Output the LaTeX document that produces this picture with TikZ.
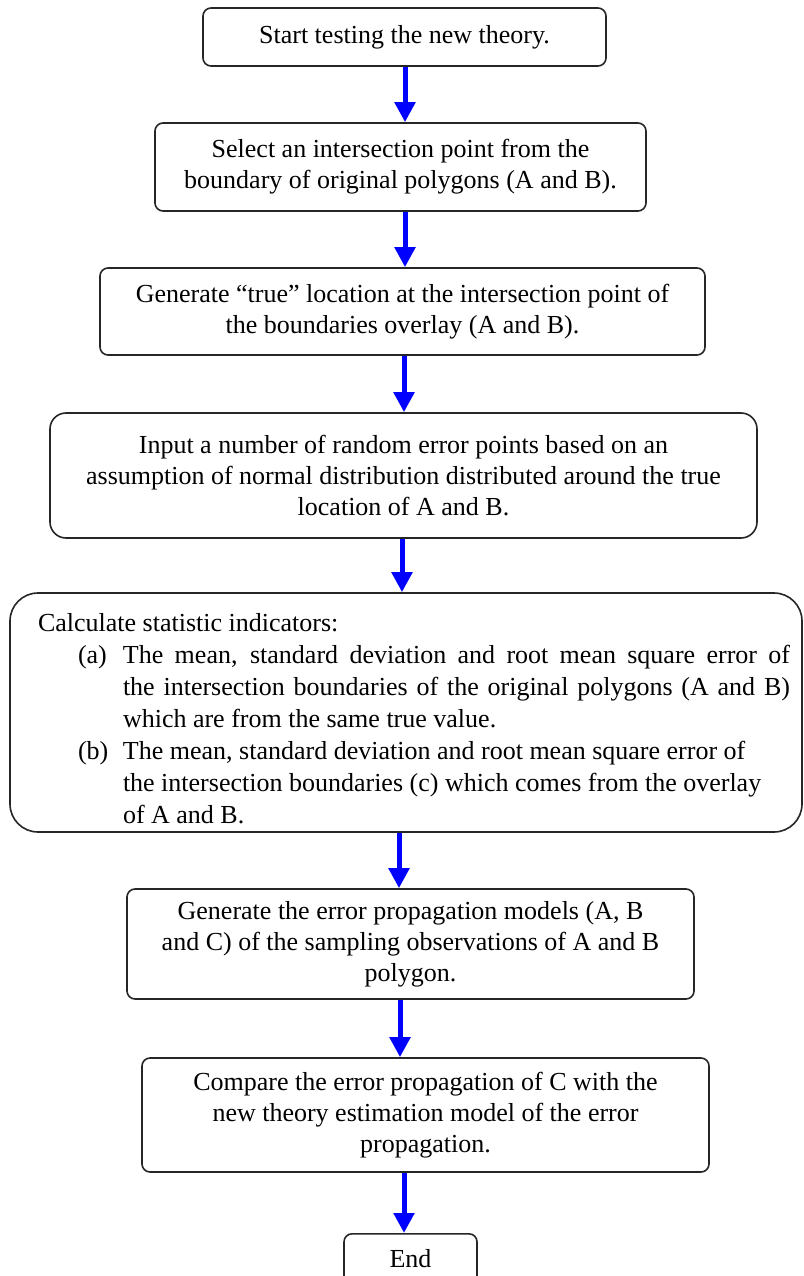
\documentclass[tikz,border=0pt]{standalone}
\usepackage{fontspec}
\setmainfont{Liberation Serif}
\usetikzlibrary{arrows.meta}
\begin{document}
\begin{tikzpicture}[x=1pt,y=-1pt,
  boxbase/.style={draw=black!85, line width=1.6pt, rounded corners=8pt, fill=white,
    inner sep=4pt, font=\fontsize{26}{31}\selectfont},
  box/.style={boxbase, align=center},
  flow/.style={draw=blue, line width=5pt, -{Triangle[width=20pt,length=20pt]}}]
\useasboundingbox (0,0) rectangle (803,1276);
\clip (0,0) rectangle (803,1276);

\node[box, minimum width=403pt, minimum height=58pt] (b1) at (404.5,37)
  {Start testing the new theory.};
\node[box, minimum width=491pt, minimum height=88pt] (b2) at (400.5,167)
  {Select an intersection point from the\\boundary of original polygons (A and B).};
\node[box, minimum width=605pt, minimum height=87pt] (b3) at (402.5,311.5)
  {Generate “true” location at the intersection point of\\the boundaries overlay (A and B).};
\node[box, rounded corners=16pt, minimum width=707pt, minimum height=125pt] (b4) at (403.5,475.5)
  {Input a number of random error points based on an\\assumption of normal distribution distributed around the true\\location of A and B.};
\node[boxbase, rounded corners=28pt, inner sep=0pt, minimum width=792pt, minimum height=239pt] (b5) at (406,712.5)
  {\hspace*{16pt}\begin{minipage}{752pt}\vspace*{12pt}\parindent=0pt\hyphenpenalty=10000\tolerance=10000
  \fontsize{26}{32}\selectfont
  Calculate statistic indicators:\par
  \hangindent=85pt\hangafter=1\hspace*{40pt}\makebox[45pt][l]{(a)}The mean, standard deviation and root mean square error of\linebreak the intersection boundaries of the original polygons (A and B)\linebreak which are from the same true value.\par
  \hangindent=85pt\hangafter=1\hspace*{40pt}\makebox[45pt][l]{(b)}The mean, standard deviation and root mean square error of\\the intersection boundaries (c) which comes from the overlay\\of A and B.\par
  \end{minipage}};
\node[box, minimum width=567pt, minimum height=110pt] (b6) at (410.5,944)
  {Generate the error propagation models (A, B\\and C) of the sampling observations of A and B\\polygon.};
\node[box, minimum width=567pt, minimum height=114pt] (b7) at (425.5,1115)
  {Compare the error propagation of C with the\\new theory estimation model of the error\\propagation.};
\node[box, minimum width=133pt, minimum height=50pt, anchor=north] (b8) at (410.5,1233)
  {End};

\draw[flow] (b1.south -| 405,0) -- (b2.north -| 405,0);
\draw[flow] (b2.south -| 405,0) -- (b3.north -| 405,0);
\draw[flow] (b3.south -| 404,0) -- (b4.north -| 404,0);
\draw[flow] (b4.south -| 402,0) -- (b5.north -| 402,0);
\draw[flow] (b5.south -| 399,0) -- (b6.north -| 399,0);
\draw[flow] (b6.south -| 400,0) -- (b7.north -| 400,0);
\draw[flow] (b7.south -| 404,0) -- (b8.north -| 404,0);
\end{tikzpicture}
\end{document}
